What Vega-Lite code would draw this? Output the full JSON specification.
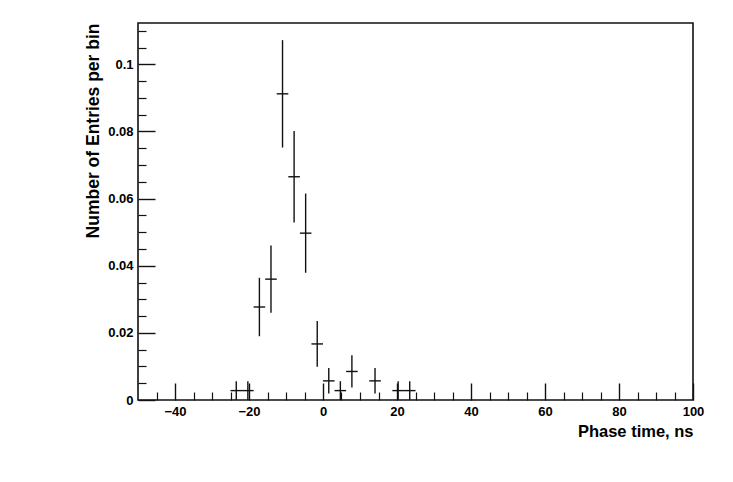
{
  "$schema": "https://vega.github.io/schema/vega-lite/v6.json",
  "width": 555,
  "height": 377,
  "autosize": "none",
  "padding": {"left": 138, "top": 23, "right": 40, "bottom": 82},
  "background": "white",
  "view": {"stroke": "#111", "strokeWidth": 1.6},
  "config": {
    "font": "Liberation Sans",
    "axis": {"labelFont": "Liberation Sans", "titleFont": "Liberation Sans", "labelFontWeight": "bold", "titleFontWeight": "bold", "labelColor": "#000", "titleColor": "#000", "tickColor": "#111", "domain": false, "grid": false}
  },
  "data": {"values": [
    {"x": -23.44, "y": 0.0028, "ylo": 0.0, "yhi": 0.0056, "xlo": -25.0, "xhi": -21.875},
    {"x": -20.31, "y": 0.0028, "ylo": 0.0, "yhi": 0.0056, "xlo": -21.875, "xhi": -18.75},
    {"x": -17.19, "y": 0.0277, "ylo": 0.0190, "yhi": 0.0364, "xlo": -18.75, "xhi": -15.625},
    {"x": -14.06, "y": 0.0360, "ylo": 0.0260, "yhi": 0.0460, "xlo": -15.625, "xhi": -12.5},
    {"x": -10.94, "y": 0.0912, "ylo": 0.0752, "yhi": 0.1072, "xlo": -12.5, "xhi": -9.375},
    {"x": -7.81, "y": 0.0665, "ylo": 0.0529, "yhi": 0.0801, "xlo": -9.375, "xhi": -6.25},
    {"x": -4.69, "y": 0.0497, "ylo": 0.0379, "yhi": 0.0615, "xlo": -6.25, "xhi": -3.125},
    {"x": -1.56, "y": 0.0167, "ylo": 0.0099, "yhi": 0.0235, "xlo": -3.125, "xhi": 0.0},
    {"x": 1.56, "y": 0.0057, "ylo": 0.0019, "yhi": 0.0095, "xlo": 0.0, "xhi": 3.125},
    {"x": 4.69, "y": 0.0028, "ylo": 0.0, "yhi": 0.0056, "xlo": 3.125, "xhi": 6.25},
    {"x": 7.81, "y": 0.0085, "ylo": 0.0037, "yhi": 0.0133, "xlo": 6.25, "xhi": 9.375},
    {"x": 14.06, "y": 0.0057, "ylo": 0.0019, "yhi": 0.0095, "xlo": 12.5, "xhi": 15.625},
    {"x": 20.31, "y": 0.0028, "ylo": 0.0, "yhi": 0.0056, "xlo": 18.75, "xhi": 21.875},
    {"x": 23.44, "y": 0.0028, "ylo": 0.0, "yhi": 0.0056, "xlo": 21.875, "xhi": 25.0}
  ]},
  "resolve": {"axis": {"x": "independent", "y": "independent"}},
  "layer": [
    {
      "mark": {"type": "rule", "color": "#111", "strokeWidth": 1.4},
      "encoding": {
        "x": {"field": "x", "type": "quantitative",
          "scale": {"domain": [-50, 100], "nice": false, "zero": false},
          "axis": {"orient": "bottom", "values": [-40, -20, 0, 20, 40, 60, 80, 100], "tickSize": -17, "tickWidth": 1.4, "labelPadding": 22, "labelFontSize": 13, "labelFlush": false,
            "title": "Phase time, ns", "titleFontSize": 16.5, "titleAnchor": "end", "titleAlign": "right", "titleBaseline": "alphabetic", "titleY": 36, "titleX": 555}},
        "y": {"field": "ylo", "type": "quantitative",
          "scale": {"domain": [0, 0.1123], "nice": false},
          "axis": {"orient": "left", "values": [0, 0.02, 0.04, 0.06, 0.08, 0.1], "format": "~g", "tickSize": -17, "tickWidth": 1.4, "labelPadding": 22, "labelFontSize": 13, "labelFlush": false,
            "title": "Number of Entries per bin", "titleFontSize": 17.5, "titleAngle": 270, "titleAlign": "right", "titleBaseline": "alphabetic", "titleX": -40, "titleY": 0}},
        "y2": {"field": "yhi"}
      }
    },
    {
      "mark": {"type": "rule", "color": "#111", "strokeWidth": 1.4},
      "encoding": {
        "x": {"field": "xlo", "type": "quantitative",
          "axis": {"orient": "bottom", "values": [-45, -35, -30, -25, -15, -10, -5, 5, 10, 15, 25, 30, 35, 45, 50, 55, 65, 70, 75, 85, 90, 95], "tickSize": -8, "tickWidth": 1.2, "labels": false, "title": null}},
        "x2": {"field": "xhi"},
        "y": {"field": "y", "type": "quantitative",
          "axis": {"orient": "left", "values": [0.005, 0.01, 0.015, 0.025, 0.03, 0.035, 0.045, 0.05, 0.055, 0.065, 0.07, 0.075, 0.085, 0.09, 0.095, 0.105, 0.11], "tickSize": -8, "tickWidth": 1.2, "labels": false, "title": null}}
      }
    }
  ]
}
